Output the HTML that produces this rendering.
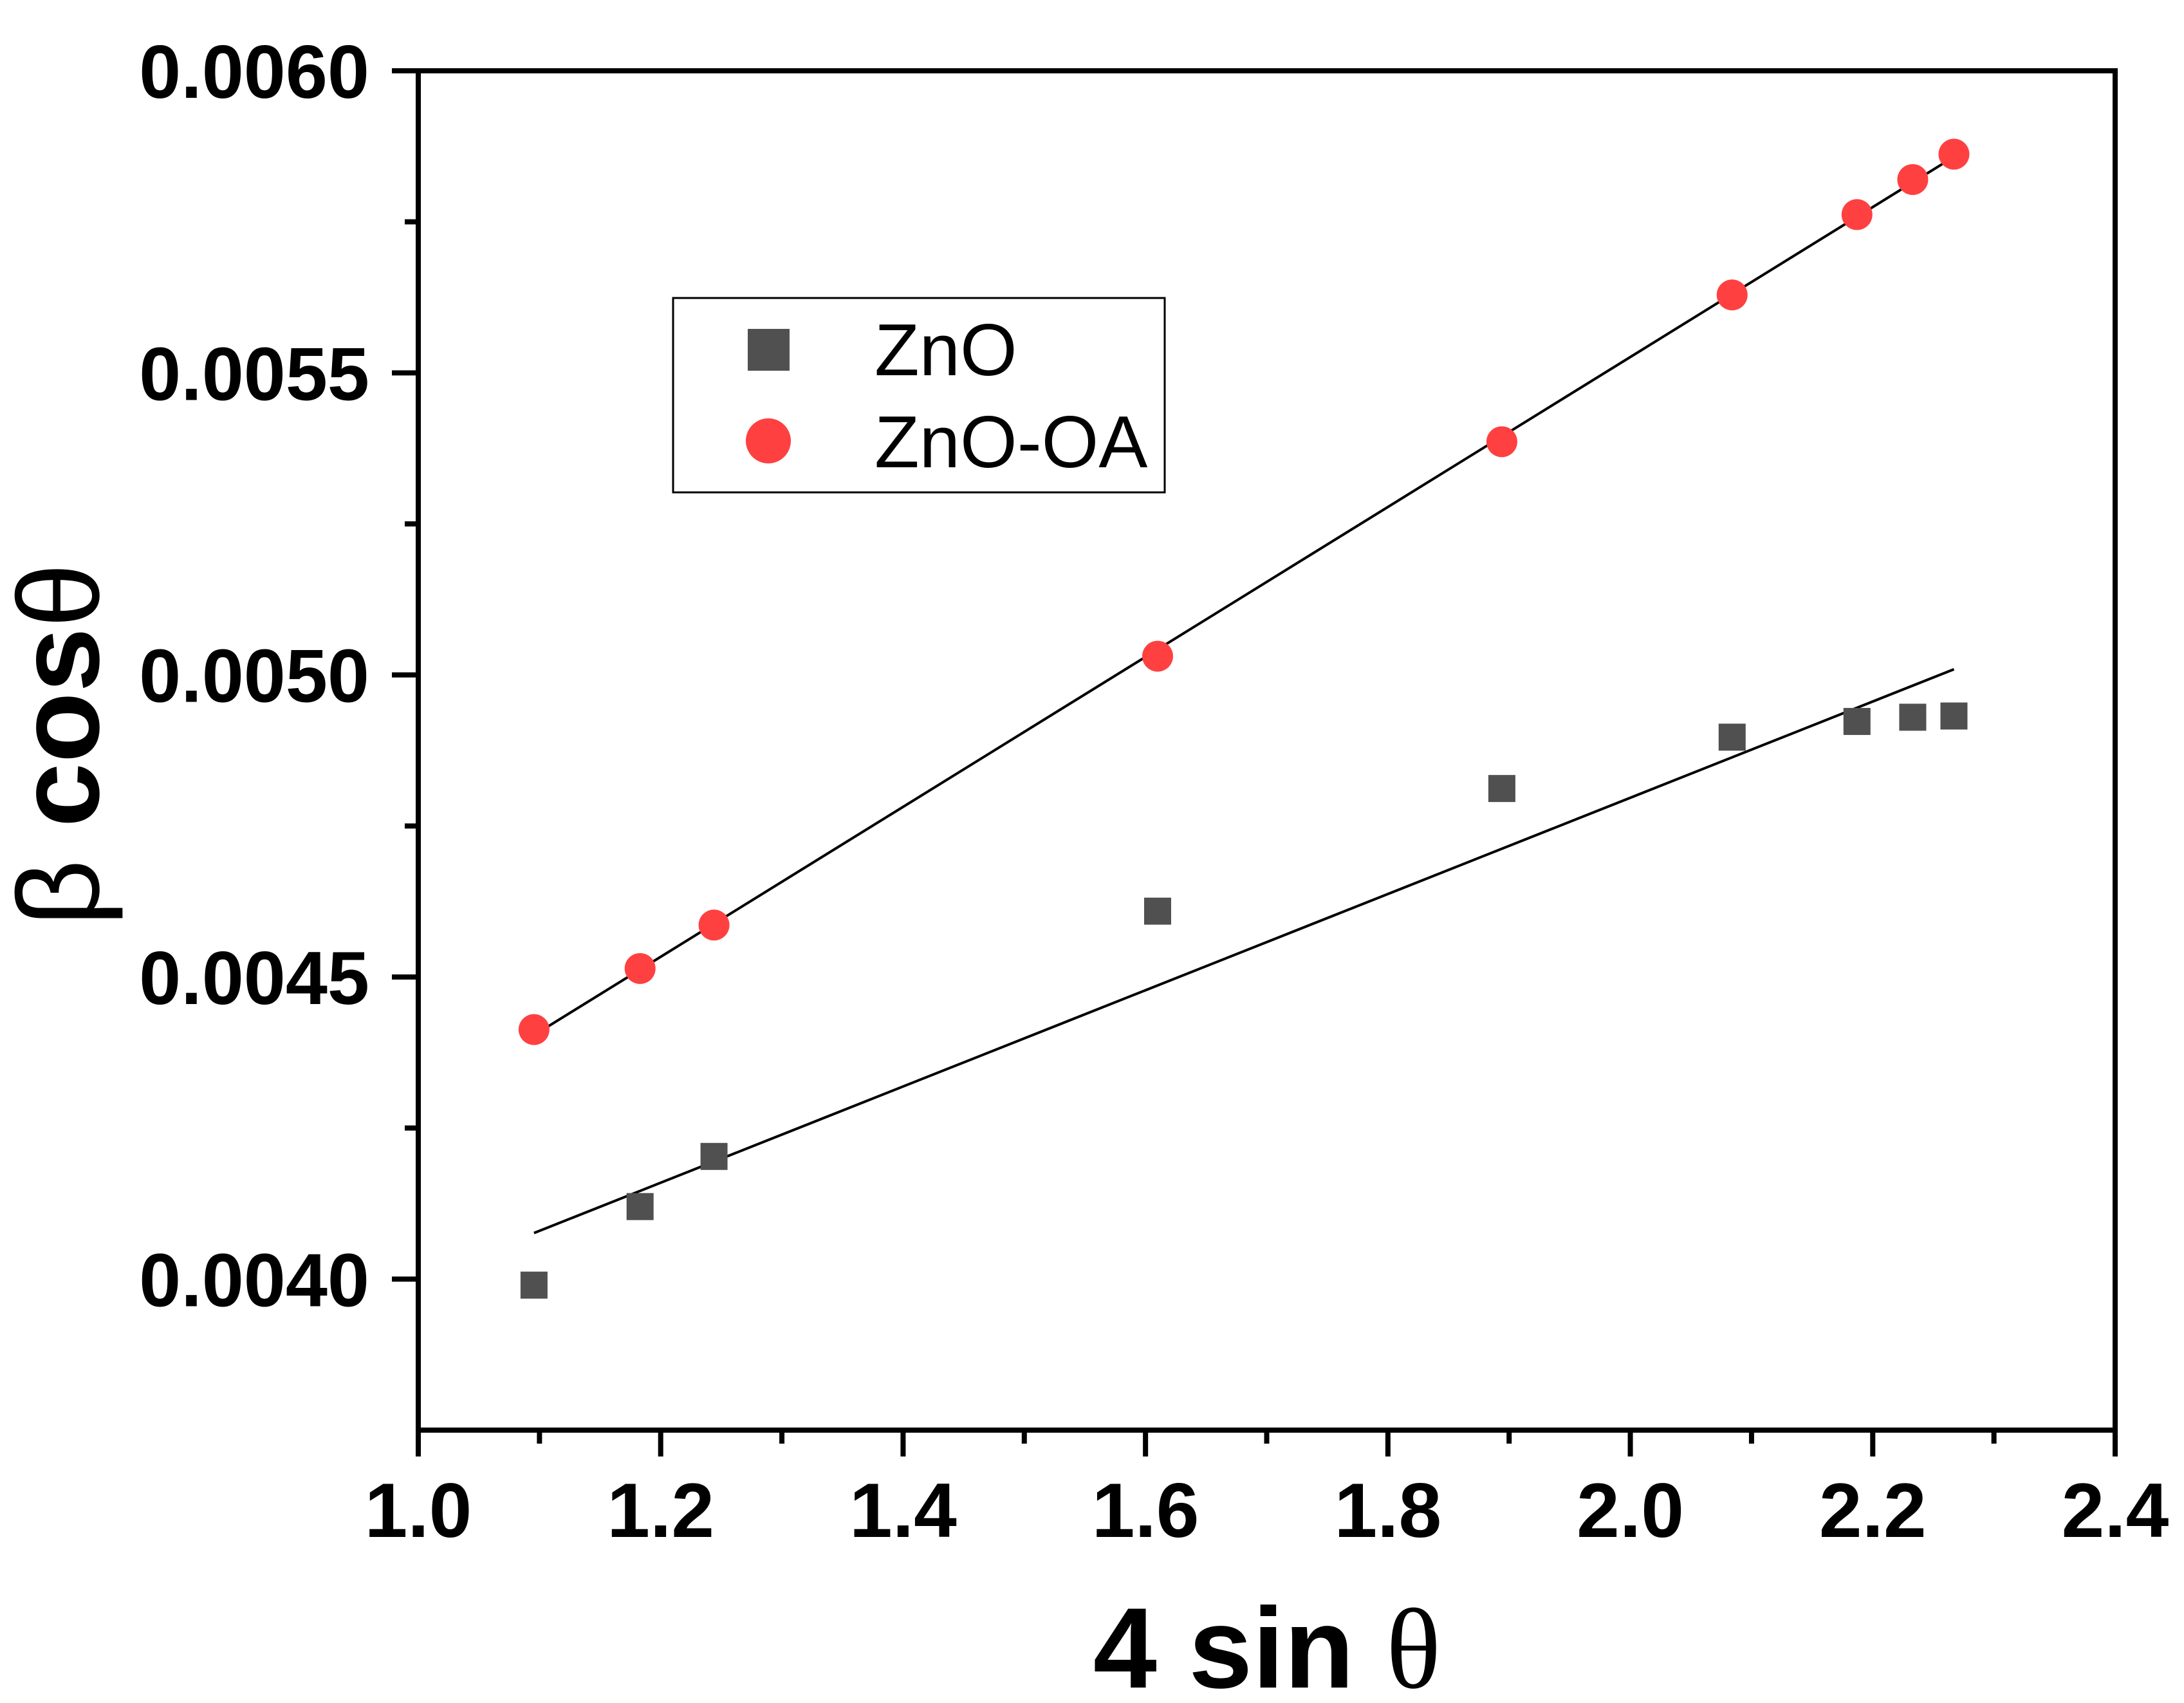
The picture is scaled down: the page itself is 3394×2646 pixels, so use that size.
<!DOCTYPE html>
<html><head><meta charset="utf-8"><style>
html,body{margin:0;padding:0;background:#fff;}
svg{display:block;}
</style></head><body>
<svg id="chart" xmlns="http://www.w3.org/2000/svg" width="3394" height="2646" viewBox="0 0 3394 2646">
<rect x="0" y="0" width="3394" height="2646" fill="#fff"/>
<g id="axes"></g>
<g id="fits"></g>
<g id="marks"></g>
<g>
<rect x="1046" y="463" width="764" height="302" fill="#fff" stroke="#000" stroke-width="3"/>
<rect x="1162" y="511" width="65" height="65" fill="#505050"/>
<text x="1359" y="583" font-family="Liberation Sans, sans-serif" font-size="114" fill="#000">ZnO</text>
<circle cx="1194" cy="685" r="35" fill="#FF4040"/>
<text x="1359" y="726" font-family="Liberation Sans, sans-serif" font-size="114" fill="#000">ZnO-OA</text>
</g>
<text x="1969" y="2622" text-anchor="middle" font-family="Liberation Sans, sans-serif" font-size="178" font-weight="bold" fill="#000">4 sin <tspan font-family="Liberation Serif, serif" font-weight="normal">θ</tspan></text>
<text transform="translate(153,1157) rotate(-90)" text-anchor="middle" font-family="Liberation Sans, sans-serif" font-size="180" font-weight="bold" fill="#000"><tspan font-weight="normal">β</tspan> cos<tspan font-weight="normal">θ</tspan></text>
</svg>
<script>
const xVals = [1.0955, 1.183, 1.244, 1.610, 1.894, 2.084, 2.187, 2.233, 2.267];
const znoVals = [0.003990, 0.004120, 0.004203, 0.004609, 0.004812, 0.004897, 0.004923, 0.004930, 0.004932];
const znoOaVals = [0.004413, 0.004514, 0.004586, 0.005031, 0.005386, 0.005629, 0.005762, 0.005820, 0.005862];
const xTickLabels = ["1.0","1.2","1.4","1.6","1.8","2.0","2.2","2.4"];
const yTickLabels = ["0.0040","0.0045","0.0050","0.0055","0.0060"];

const NS = "http://www.w3.org/2000/svg";
const L = 650, R = 3287, T = 110, B = 2222;
const xMin = 1.0, xMax = 2.4, yMin = 0.00375, yMax = 0.0060;
function sx(v){ return L + (v - xMin) / (xMax - xMin) * (R - L); }
function sy(v){ return B - (v - yMin) / (yMax - yMin) * (B - T); }
function mk(tag, attrs, parent){
  const e = document.createElementNS(NS, tag);
  for (const k in attrs) e.setAttribute(k, attrs[k]);
  parent.appendChild(e);
  return e;
}
const axes = document.getElementById('axes');
const fits = document.getElementById('fits');
const marks = document.getElementById('marks');

const frame = mk('rect', {x:L, y:T, width:R-L, height:B-T, fill:'none', stroke:'#000', 'stroke-width':8}, axes);



xTickLabels.forEach(function(lab){
  const v = parseFloat(lab);
  const x = sx(v);
  const t = mk('line', {x1:x, y1:B, x2:x, y2:B+41, stroke:'#000', 'stroke-width':8}, axes);
  
  
  const tx = mk('text', {x:x, y:2388, 'text-anchor':'middle', 'font-family':'Liberation Sans, sans-serif', 'font-size':120, 'font-weight':'bold', fill:'#000'}, axes);
  tx.textContent = lab;
  
  
});
for (let i = 0; i < xTickLabels.length - 1; i++) {
  const v = (parseFloat(xTickLabels[i]) + parseFloat(xTickLabels[i+1])) / 2;
  const t = mk('line', {x1:sx(v), y1:B, x2:sx(v), y2:B+21, stroke:'#000', 'stroke-width':8}, axes);
  
  
}
yTickLabels.forEach(function(lab){
  const v = parseFloat(lab);
  const y = sy(v);
  const t = mk('line', {x1:L-41, y1:y, x2:L, y2:y, stroke:'#000', 'stroke-width':8}, axes);
  
  
  const tx = mk('text', {x:574, y:y+42, 'text-anchor':'end', 'font-family':'Liberation Sans, sans-serif', 'font-size':117, 'font-weight':'bold', fill:'#000'}, axes);
  tx.textContent = lab;
  
  
});
for (let i = 0; i < yTickLabels.length; i++) {
  const v = parseFloat(yTickLabels[i]) - 0.00025;
  if (v <= yMin) continue;
  const t = mk('line', {x1:L-21, y1:sy(v), x2:L, y2:sy(v), stroke:'#000', 'stroke-width':8}, axes);
  
  
}

function fit(xs, ys){
  const n = xs.length;
  let mx=0,my=0; for(let i=0;i<n;i++){mx+=xs[i];my+=ys[i];} mx/=n; my/=n;
  let num=0,den=0; for(let i=0;i<n;i++){num+=(xs[i]-mx)*(ys[i]-my);den+=(xs[i]-mx)*(xs[i]-mx);}
  const b = num/den; return {b:b, a:my-b*mx};
}
[[znoVals,'fit-line-zno'],[znoOaVals,'fit-line-zno-oa']].forEach(function(p){
  const f = fit(xVals, p[0]);
  const x0 = xVals[0], x1 = xVals[xVals.length-1];
  const ln = mk('line', {x1:sx(x0), y1:sy(f.a+f.b*x0), x2:sx(x1), y2:sy(f.a+f.b*x1), stroke:'#000', 'stroke-width':4}, fits);
  
  
});

xVals.forEach(function(x, i){
  const s = mk('rect', {x:sx(x)-21, y:sy(znoVals[i])-21, width:42, height:42, fill:'#505050'}, marks);
  
  
  const c = mk('circle', {cx:sx(x), cy:sy(znoOaVals[i]), r:24, fill:'#FF4040'}, marks);
  
  
});
</script>
</body></html>
